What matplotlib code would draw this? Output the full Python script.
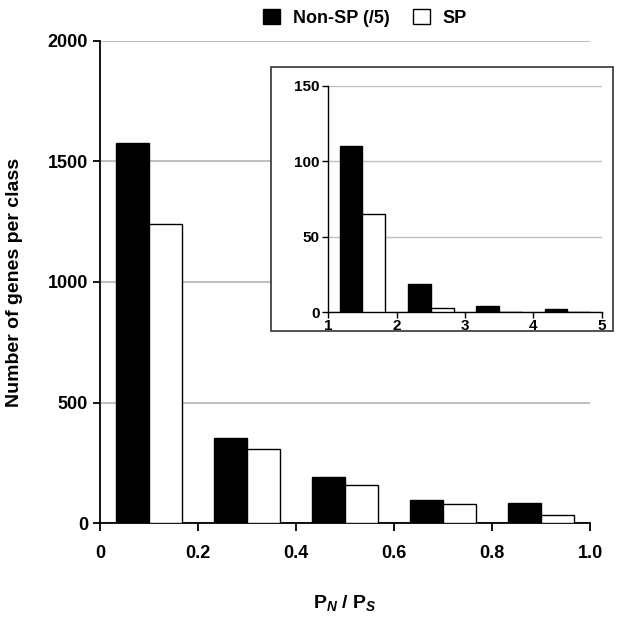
import matplotlib as mpl
mpl.use('Agg')
import matplotlib.pyplot as plt
from matplotlib.patches import Rectangle
import numpy as np

plt.rcParams['font.family'] = ['Liberation Sans', 'DejaVu Sans']
plt.rcParams['font.weight'] = 'bold'
plt.rcParams['mathtext.fontset'] = 'custom'
plt.rcParams['mathtext.it'] = 'Liberation Sans:italic:bold'
plt.rcParams['mathtext.rm'] = 'Liberation Sans:bold'

# main histogram, P_N / P_S classes of width 0.2
bin_centers = [0.1, 0.3, 0.5, 0.7, 0.9]
nonsp_main = [1578, 354, 190, 95, 85]   # already divided by 5
sp_main = [1240, 306, 158, 78, 32]

# inset, classes of width 1 from 1 to 5
inset_centers = [1.5, 2.5, 3.5, 4.5]
nonsp_inset = [110, 19, 4, 2]
sp_inset = [65, 3, 0, 0]

GRID = '#c0c0c0'

fig = plt.figure(figsize=(6.3, 6.18), dpi=100)
ax = fig.add_axes([0.1587, 0.1537, 0.778, 0.78])

w = 0.2 / 3
ax.bar(np.array(bin_centers) - w / 2, nonsp_main, width=w, color='black',
       edgecolor='black', linewidth=1, zorder=3)
ax.bar(np.array(bin_centers) + w / 2, sp_main, width=w, color='white',
       edgecolor='black', linewidth=1, zorder=3)

ax.set_xlim(0, 1.0)
ax.set_ylim(0, 2000)
ax.set_xticks([0, 0.2, 0.4, 0.6, 0.8, 1.0])
ax.set_xticklabels(['0', '0.2', '0.4', '0.6', '0.8', '1.0'])
ax.set_yticks([0, 500, 1000, 1500, 2000])
ax.yaxis.grid(True, color=GRID, linewidth=1.5, zorder=0)
ax.set_axisbelow(True)
for s in ['top', 'right']:
    ax.spines[s].set_visible(False)
for s in ['left', 'bottom']:
    ax.spines[s].set_linewidth(1.3)
ax.tick_params(direction='out', length=5, width=1.3, labelsize=13, pad=3.5)
ax.tick_params(axis='x', length=6, pad=10)

ax.set_ylabel('Number of genes per class', fontsize=14, fontweight='bold')
ax.yaxis.set_label_coords(-0.157, 0.5)
ax.set_xlabel(r'P$_{N}$ / P$_{S}$', fontsize=14, fontweight='bold', labelpad=22)

# legend, top of the figure
fig.legend(handles=[Rectangle((0, 0), 1, 1, facecolor='black', edgecolor='black'),
                    Rectangle((0, 0), 1, 1, facecolor='white', edgecolor='black')],
           labels=['Non-SP (/5)', 'SP'], ncol=2, frameon=False,
           loc='center left', bbox_to_anchor=(263 / 630, 1 - 18 / 618),
           prop={'size': 13, 'weight': 'bold'}, borderpad=0, borderaxespad=0,
           handlelength=0.94, handleheight=0.85, handletextpad=0.72,
           columnspacing=1.27)

# inset frame
fig.patches.append(Rectangle((271 / 630, 1 - 331 / 618), 342 / 630, 264 / 618,
                             transform=fig.transFigure, facecolor='white',
                             edgecolor='#333333', linewidth=1.2, zorder=2))

axi = fig.add_axes([0.521, 0.4947, 0.434, 0.3667], zorder=5)
axi.patch.set_alpha(0)
wi = 1 / 3
axi.bar(np.array(inset_centers) - wi / 2, nonsp_inset, width=wi, color='black',
        edgecolor='black', linewidth=1, zorder=3)
axi.bar(np.array(inset_centers) + wi / 2, sp_inset, width=wi, color='white',
        edgecolor='black', linewidth=1, zorder=3)
axi.set_xlim(1, 5)
axi.set_ylim(0, 150)
axi.set_xticks([1, 2, 3, 4, 5])
axi.set_yticks([0, 50, 100, 150])
axi.yaxis.grid(True, color=GRID, linewidth=1, zorder=0)
axi.set_axisbelow(True)
for s in ['top', 'right']:
    axi.spines[s].set_visible(False)
for s in ['left', 'bottom']:
    axi.spines[s].set_linewidth(1)
axi.tick_params(direction='out', length=4, width=1, labelsize=11, pad=2)
axi.tick_params(axis='x', pad=0.5)

fig.savefig('out.png', dpi=100)
